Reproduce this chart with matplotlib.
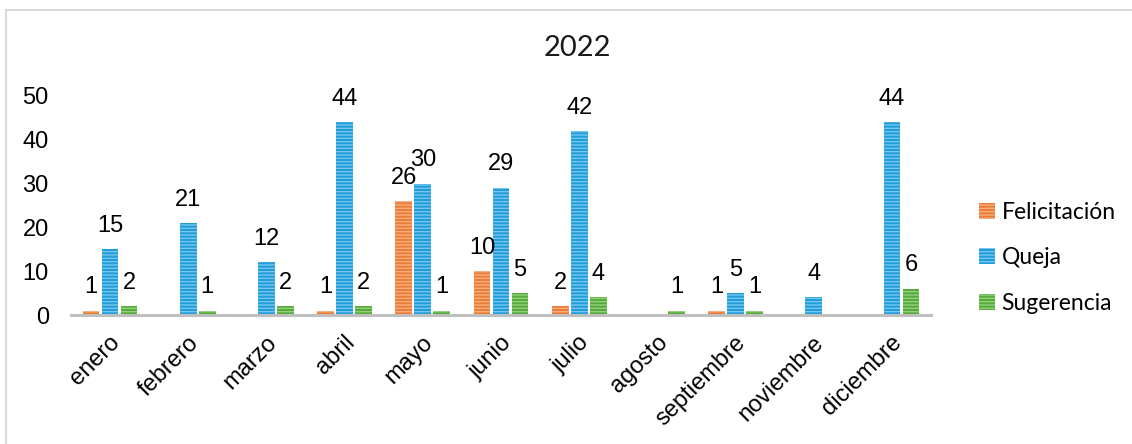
import numpy as np
import matplotlib.pyplot as plt
import matplotlib.patches as patches
import matplotlib.transforms as mtransforms

meses = ['enero', 'febrero', 'marzo', 'abril', 'mayo', 'junio', 'julio',
         'agosto', 'septiembre', 'noviembre', 'diciembre']
felicitacion = [1, None, None, 1, 26, 10, 2, None, 1, None, None]
queja = [15, 21, 12, 44, 30, 29, 42, None, 5, 4, 44]
sugerencia = [2, 1, 2, 2, 1, 5, 4, 1, 1, None, 6]

series = [
    ('Felicitación', felicitacion, '#EE7D33', '#F5AE82'),
    ('Queja', queja, '#1F9DDA', '#74C6EE'),
    ('Sugerencia', sugerencia, '#55AB38', '#93CF7F'),
]

plt.rcParams['font.family'] = ['Liberation Sans', 'DejaVu Sans']
plt.rcParams['hatch.linewidth'] = 1.0

fig = plt.figure(figsize=(11.32, 4.44), dpi=100)
ax = fig.add_axes([71 / 1132, 1 - 315 / 444, (931 - 71) / 1132, (315 - 96) / 444])

x = np.arange(len(meses))
w = 0.215
step = 0.243
handles = []
for i, (name, vals, col, stripe) in enumerate(series):
    xs = x + (i - 1) * step
    hs = [v if v is not None else 0 for v in vals]
    bars = ax.bar(xs, hs, w, color=col, edgecolor=stripe, linewidth=0,
                  hatch='-----', label=name)
    handles.append(bars)
    for xi, v in zip(xs, vals):
        if v is None:
            continue
        ax.annotate(str(v), (xi, v), xytext=(0, 9), textcoords='offset points',
                    ha='center', va='bottom', fontsize=17, color='black',
                    annotation_clip=False)

ax.set_xlim(-0.5, len(meses) - 0.5)
ax.set_ylim(0, 50)
ax.set_yticks([0, 10, 20, 30, 40, 50])
ax.tick_params(axis='y', length=0, pad=16, labelsize=17)
ax.tick_params(axis='x', length=0, pad=12, labelsize=17)
ax.set_xticks(x)
ax.set_xticklabels(meses, rotation=45, ha='right', rotation_mode='anchor')
off = mtransforms.ScaledTranslation(-1 / 100, 0, fig.dpi_scale_trans)
for lab in ax.get_xticklabels():
    lab.set_transform(lab.get_transform() + off)

for s in ['top', 'right', 'left']:
    ax.spines[s].set_visible(False)
ax.spines['bottom'].set_color('#BFBFBF')
ax.spines['bottom'].set_linewidth(2.2)

fig.text(577 / 1132, 1 - 48 / 444, '2022', ha='center', va='center',
         fontsize=21, family=['Lato', 'DejaVu Sans'], color='#1a1a1a')

fig.legend(handles=handles, loc='center left', bbox_to_anchor=(958 / 1132, 1 - 258 / 444),
           frameon=False, handlelength=0.7, handleheight=0.7, handletextpad=0.3,
           labelspacing=1.05, prop={'family': ['Lato', 'DejaVu Sans'], 'size': 16.5})

# chart border
fig.patches.append(patches.Rectangle((6 / 1132, -0.1), 2, 1 - 10 / 444 + 0.1,
                                     transform=fig.transFigure, fill=False,
                                     edgecolor='#D9D9D9', linewidth=1.5))

fig.savefig('out.png', dpi=100)
